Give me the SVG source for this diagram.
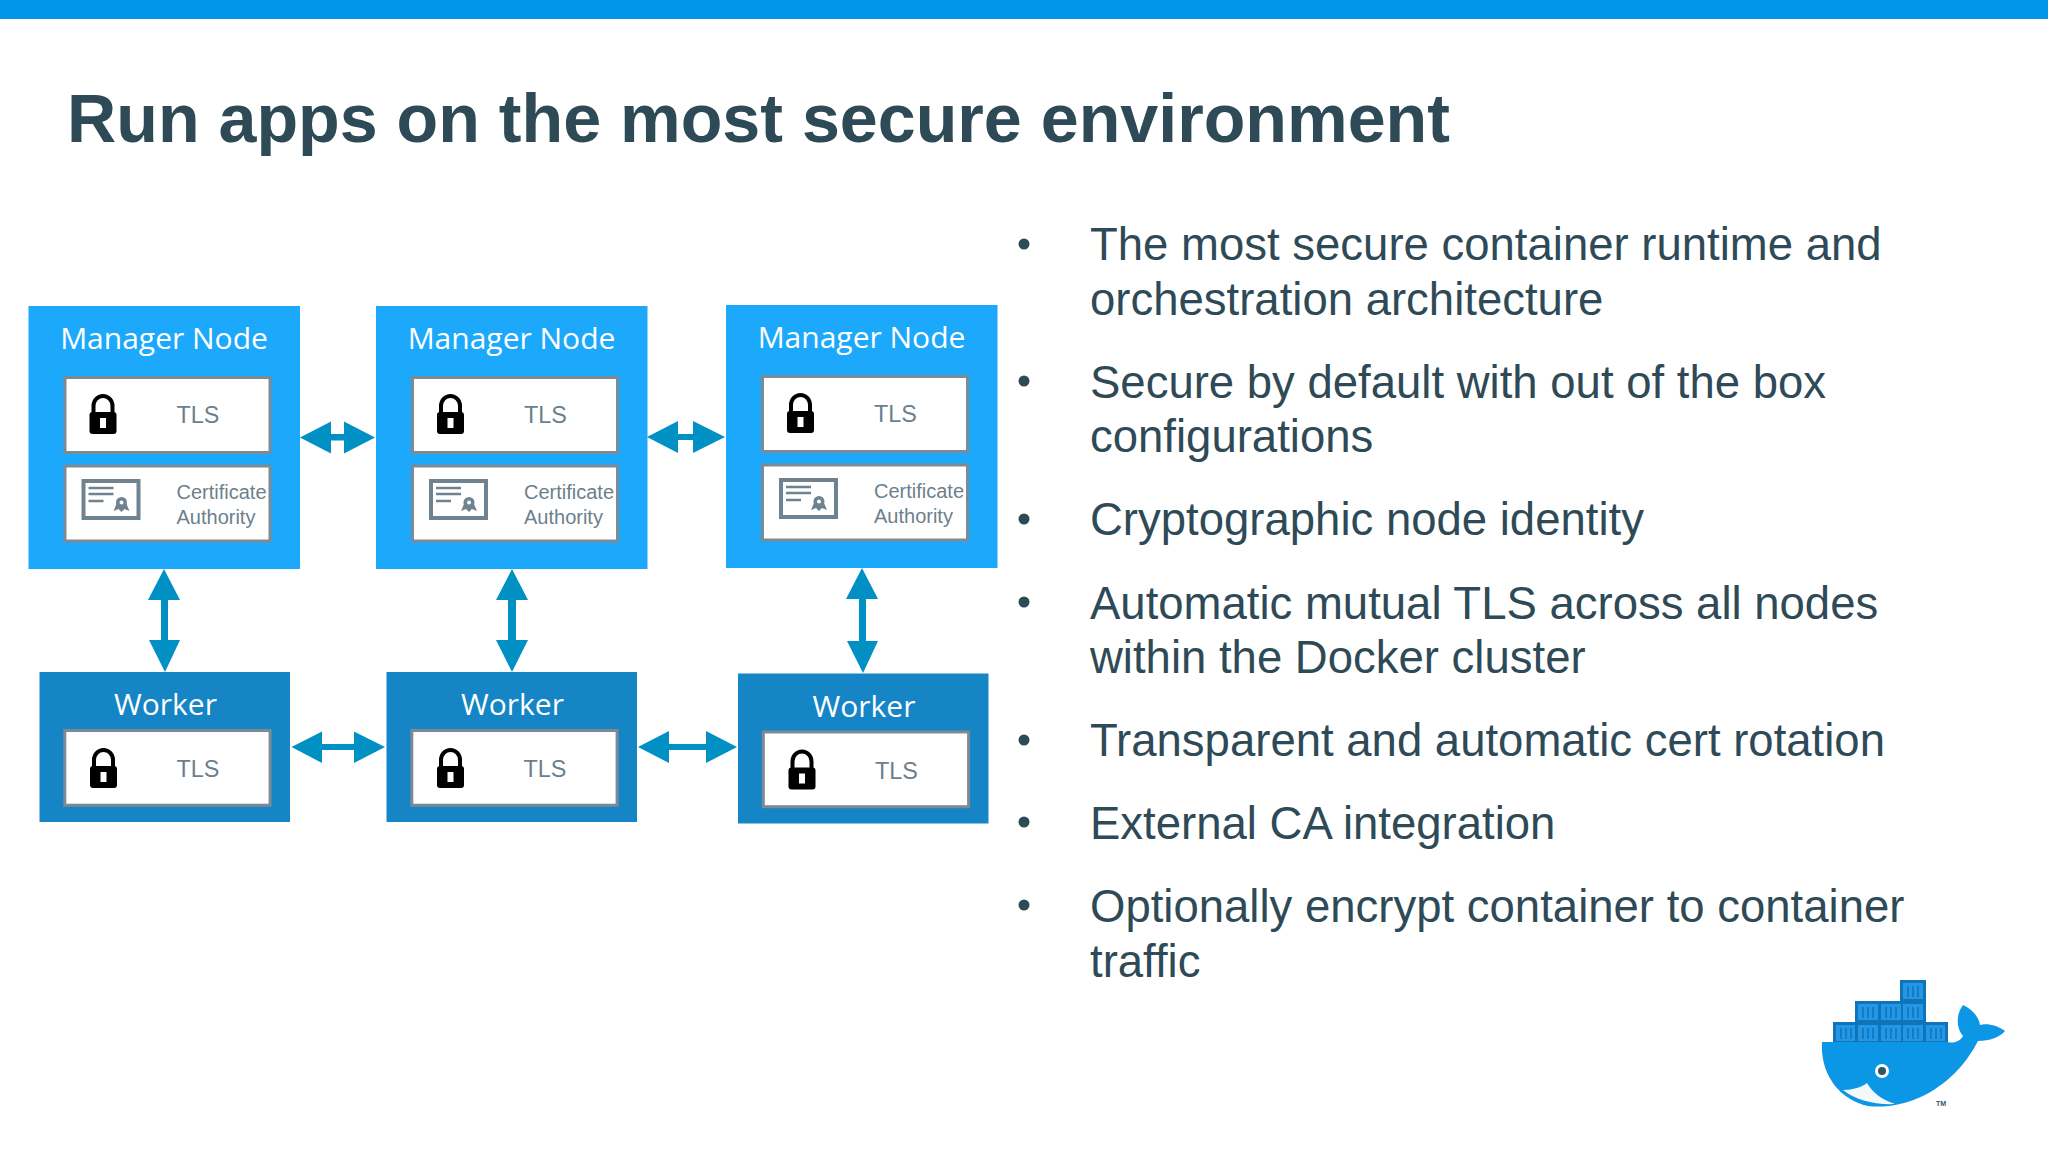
<svg xmlns="http://www.w3.org/2000/svg" xmlns:xlink="http://www.w3.org/1999/xlink" width="2048" height="1152" viewBox="0 0 2048 1152">
<style>
text{font-family:"Liberation Sans",Arial,sans-serif}
.title{font-size:68.200px;font-weight:700;fill:#2d4a56}
.b{font-size:45.500px;fill:#2f4a57}
.h{font-family:"Open Sans","Noto Sans",sans-serif;font-size:30px;fill:#fff;text-anchor:middle}
.t{font-size:23.400px;fill:#6d7f8c}
.c{font-size:20px;fill:#6d7f8c}
.m{fill:#1ca8fb}
.w{fill:#1585c5}
.i{fill:#fff;stroke:#7c8a96;stroke-width:3}
.a{fill:#0090c4}
.g{stroke:#0f74b8;stroke-width:1.500;fill:none}
</style>
<defs>
<g id="lock"><path d="M-9.500 2V-6a9.500 10 0 0 1 19 0V2" fill="none" stroke="#000" stroke-width="4"/><rect x="-13.500" y="0" width="27" height="22" rx="3" fill="#000"/><rect x="-3" y="6" width="6" height="10" fill="#fff"/></g>
<g id="cert"><rect x="-27" y="-18" width="55" height="37" fill="#fff" stroke="#6f8290" stroke-width="4"/><path d="M-22-11H3M-22-5H3M-22 2H-7" stroke="#6f8290" stroke-width="2.500"/><circle cx="11" cy="3.500" r="5.500" fill="#6f8290"/><path d="M6 5L3 12L8 10L11 13L14 10L19 12L16 5Z" fill="#6f8290"/><circle cx="11" cy="3.500" r="2" fill="#fff"/></g>
<g id="mgr"><rect class="m" x="0" y="0" width="271.500" height="263"/><text class="h" x="135.500" y="43">Manager Node</text><rect class="i" x="36.500" y="71.500" width="205" height="75"/><use xlink:href="#lock" href="#lock" x="74.500" y="106"/><text class="t" x="148" y="117">TLS</text><rect class="i" x="36.500" y="160" width="205" height="75"/><use xlink:href="#cert" href="#cert" x="82" y="193"/><text class="c" x="148" y="192.500">Certificate</text><text class="c" x="148" y="217.500">Authority</text></g>
<g id="wkr"><rect class="w" x="0" y="0" width="250.500" height="150"/><text class="h" x="126" y="43">Worker</text><rect class="i" x="25.300" y="58.500" width="205.300" height="74.700"/><use xlink:href="#lock" href="#lock" x="64" y="94"/><text class="t" x="137" y="105">TLS</text></g>
</defs>
<rect width="2048" height="1152" fill="#fff"/>
<rect width="2048" height="19" fill="#0296e9"/>
<text class="title" x="67" y="142">Run apps on the most secure environment</text>
<g id="n1"><use xlink:href="#mgr" href="#mgr" x="28.500" y="306"/></g>
<g id="n2"><use xlink:href="#mgr" href="#mgr" x="376" y="306"/></g>
<g id="n3"><use xlink:href="#mgr" href="#mgr" x="726" y="305"/></g>
<g id="n4"><use xlink:href="#wkr" href="#wkr" x="39.500" y="672"/></g>
<g id="n5"><use xlink:href="#wkr" href="#wkr" x="386.500" y="672"/></g>
<g id="n6"><use xlink:href="#wkr" href="#wkr" x="738" y="673.500"/></g>
<g id="connectors" class="a">
<path d="M300 437.500L331 421.500V434H344V421.500L375 437.500L344 453.500V440.500H331V453.500Z"/>
<path d="M647 437L678 421V434H693V421L725 437L693 453V440H678V453Z"/>
<path d="M291.500 747L322 731.500V744H354V731.500L385 747L354 763V750H322V763Z"/>
<path d="M638 747L669 731V744H706V731L737 747L706 763V750H669V763Z"/>
<path d="M164 569L180 600H168V640H180L165 672L149 640H161V600H148Z"/>
<path d="M512 569L528 600H516V640H528L512 672L496 640H508V600H496Z"/>
<path d="M862 568L878 599H866V641H878L863 673L847 641H859V599H846Z"/>
</g>
<g class="b">
<text x="1090" y="260">The most secure container runtime and</text>
<text x="1090" y="315">orchestration architecture</text>
<text x="1090" y="398">Secure by default with out of the box</text>
<text x="1090" y="452">configurations</text>
<text x="1090" y="535">Cryptographic node identity</text>
<text x="1090" y="619">Automatic mutual TLS across all nodes</text>
<text x="1090" y="673">within the Docker cluster</text>
<text x="1090" y="756">Transparent and automatic cert rotation</text>
<text x="1090" y="839">External CA integration</text>
<text x="1090" y="922">Optionally encrypt container to container</text>
<text x="1090" y="977">traffic</text>
</g>
<g fill="#2f4a57"><circle cx="1024" cy="244" r="5.500"/><circle cx="1024" cy="381" r="5.500"/><circle cx="1024" cy="519" r="5.500"/><circle cx="1024" cy="602" r="5.500"/><circle cx="1024" cy="740" r="5.500"/><circle cx="1024" cy="822" r="5.500"/><circle cx="1024" cy="905" r="5.500"/></g>
<g id="logo">
<g fill="#0f74b8">
<rect x="1900" y="980" width="26" height="22"/><rect x="1855" y="1001" width="71" height="22"/><rect x="1833" y="1022" width="115" height="22"/>
</g>
<g fill="#2496e6">
<rect x="1903" y="983" width="20" height="16"/>
<rect x="1858" y="1004" width="20" height="16"/><rect x="1881" y="1004" width="20" height="16"/><rect x="1903" y="1004" width="20" height="16"/>
<rect x="1836" y="1025" width="19" height="16"/><rect x="1858" y="1025" width="20" height="16"/><rect x="1881" y="1025" width="20" height="16"/><rect x="1903" y="1025" width="20" height="16"/><rect x="1926" y="1025" width="19" height="16"/>
</g>
<path class="g" d="M1908 986V997M1913 986V997M1918 986V997M1863 1007V1018M1868 1007V1018M1873 1007V1018M1886 1007V1018M1891 1007V1018M1896 1007V1018M1908 1007V1018M1913 1007V1018M1918 1007V1018M1841 1028V1039M1846 1028V1039M1851 1028V1039M1863 1028V1039M1868 1028V1039M1873 1028V1039M1886 1028V1039M1891 1028V1039M1896 1028V1039M1908 1028V1039M1913 1028V1039M1918 1028V1039M1931 1028V1039M1936 1028V1039M1941 1028V1039"/>
<path fill="#0b97e6" d="M1822 1042H1948C1955 1044 1961 1040 1963 1036C1956 1028 1956 1014 1963 1005C1972 1009 1979 1017 1980 1025C1988 1023 1998 1026 2005 1031C2000 1037 1990 1041 1978 1041C1968 1060 1953 1080 1925 1095C1905 1105 1885 1108 1868 1106C1840 1100 1820 1075 1822 1042Z"/>
<path fill="#f3f8fb" d="M1843 1090C1853 1090 1862 1087 1867 1083C1872 1092 1882 1100 1895 1104C1875 1105 1855 1100 1843 1090Z"/>
<circle cx="1882" cy="1071" r="7" fill="#fff"/><circle cx="1882" cy="1071" r="4" fill="#33556a"/>
<text x="1936" y="1106" font-size="7" font-weight="700" fill="#33556a">TM</text>
</g>
</svg>
